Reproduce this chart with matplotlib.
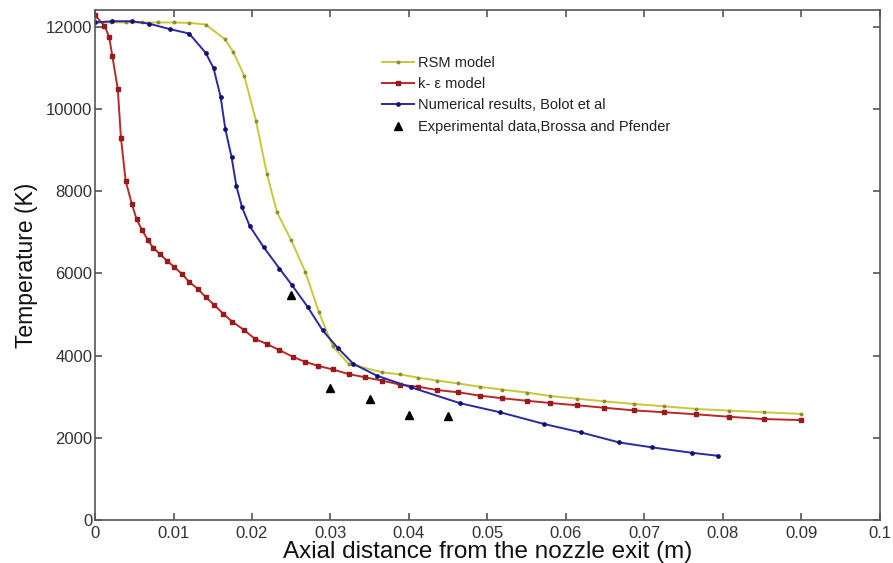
import matplotlib
matplotlib.use('Agg')
import matplotlib.pyplot as plt
from matplotlib.ticker import FixedLocator, FuncFormatter

# RSM model (yellow)
rsm_x = [0.0, 0.002, 0.004, 0.006, 0.008, 0.010, 0.012, 0.0141, 0.0165, 0.0176,
         0.019, 0.0205, 0.0219, 0.0232, 0.025, 0.0268, 0.0285, 0.0303, 0.0323,
         0.0366, 0.0389, 0.0412, 0.0436, 0.0463, 0.049, 0.0519, 0.055, 0.058,
         0.0614, 0.0649, 0.0687, 0.0725, 0.0766, 0.0808, 0.0852, 0.0899]
rsm_t = [12100, 12100, 12100, 12100, 12100, 12100, 12090, 12050, 11700, 11390,
         10810, 9715, 8415, 7480, 6800, 6030, 5070, 4220, 3800,
         3590, 3540, 3460, 3390, 3320, 3240, 3170, 3100, 3015,
         2950, 2885, 2820, 2765, 2700, 2660, 2620, 2580]

# k-epsilon model (red)
ke_x = [0.0, 0.0012, 0.0018, 0.0022, 0.0029, 0.0033, 0.0039, 0.0047, 0.0053,
        0.006, 0.0067, 0.0074, 0.0083, 0.0092, 0.0101, 0.0111, 0.012, 0.0131,
        0.0141, 0.0152, 0.0163, 0.0175, 0.019, 0.0204, 0.0219, 0.0234, 0.0252,
        0.0267, 0.0284, 0.0303, 0.0323, 0.0344, 0.0366, 0.0389, 0.0412, 0.0436,
        0.0463, 0.049, 0.0519, 0.055, 0.058, 0.0614, 0.0649, 0.0687, 0.0725,
        0.0766, 0.0808, 0.0852, 0.0899]
ke_t = [12270, 12020, 11750, 11290, 10480, 9300, 8250, 7680, 7310,
        7050, 6820, 6625, 6460, 6300, 6150, 5980, 5790, 5620,
        5420, 5230, 5020, 4820, 4620, 4400, 4280, 4140, 3970,
        3850, 3750, 3660, 3550, 3470, 3390, 3290, 3240, 3160,
        3105, 3025, 2960, 2900, 2845, 2790, 2730, 2665, 2620,
        2570, 2510, 2455, 2430]

# Numerical results, Bolot et al (blue)
bolot_x = [0.0, 0.0022, 0.0047, 0.0069, 0.0095, 0.012, 0.0141, 0.0151, 0.016,
           0.0166, 0.0174, 0.018, 0.0187, 0.0197, 0.0215, 0.0235, 0.0251,
           0.0271, 0.029, 0.0309, 0.0329, 0.0359, 0.0402, 0.0465, 0.0516,
           0.0572, 0.0619, 0.0668, 0.071, 0.076, 0.0794]
bolot_t = [12100, 12130, 12130, 12070, 11940, 11830, 11360, 10990, 10290,
           9510, 8820, 8130, 7620, 7150, 6630, 6115, 5710,
           5180, 4610, 4190, 3800, 3510, 3230, 2840, 2620,
           2335, 2130, 1885, 1765, 1635, 1560]

# Experimental data, Brossa and Pfender
exp_x = [0.025, 0.030, 0.035, 0.040, 0.045]
exp_t = [5460, 3200, 2945, 2560, 2520]

plt.rcParams['font.family'] = ['Liberation Sans', 'DejaVu Sans']

fig = plt.figure(figsize=(8.93, 5.63), dpi=100)
ax = fig.add_axes([0.1064, 0.0764, 0.879, 0.9056])

ax.plot(rsm_x, rsm_t, color='#c8c83a', lw=1.4, marker='o', ms=1.8,
        mfc='#8c8c30', mec='#8c8c30', label='RSM model')
ax.plot(ke_x, ke_t, color='#b52a2a', lw=1.4, marker='s', ms=2.8,
        mfc='#9a1a1a', mec='#9a1a1a', label='k- \u03b5 model')
ax.plot(bolot_x, bolot_t, color='#2a2aa0', lw=1.4, marker='o', ms=2.4,
        mfc='#10107a', mec='#10107a', label='Numerical results, Bolot et al')
ax.plot(exp_x, exp_t, ls='none', marker='^', ms=6, color='black',
        label='Experimental data,Brossa and Pfender')

ax.set_xlim(0, 0.1)
ax.set_ylim(0, 12400)
ax.xaxis.set_major_locator(FixedLocator([i / 100 for i in range(11)]))
ax.yaxis.set_major_locator(FixedLocator(range(0, 12001, 2000)))
ax.xaxis.set_major_formatter(FuncFormatter(lambda v, p: '%g' % round(v, 3)))
ax.yaxis.set_major_formatter(FuncFormatter(lambda v, p: '%d' % v))

for s in ax.spines.values():
    s.set_color('#555555')
    s.set_linewidth(1.2)
ax.tick_params(direction='in', top=True, right=True, length=5, width=1.2,
               color='#555555', labelsize=12, labelcolor='#333333', pad=2)
ax.tick_params(axis='x', pad=4)

ax.set_xlabel('Axial distance from the nozzle exit (m)', fontsize=17.5,
              color='#111111', labelpad=0)
ax.set_ylabel('Temperature (K)', fontsize=16.5, color='#111111', labelpad=6)

leg = ax.legend(loc='upper left', bbox_to_anchor=(0.358, 0.922),
                frameon=False, fontsize=10.5, handlelength=2.2,
                handletextpad=0.3, labelspacing=0.5, borderaxespad=0)
for t in leg.get_texts():
    t.set_color('#222222')

fig.savefig('out.png', dpi=100)
